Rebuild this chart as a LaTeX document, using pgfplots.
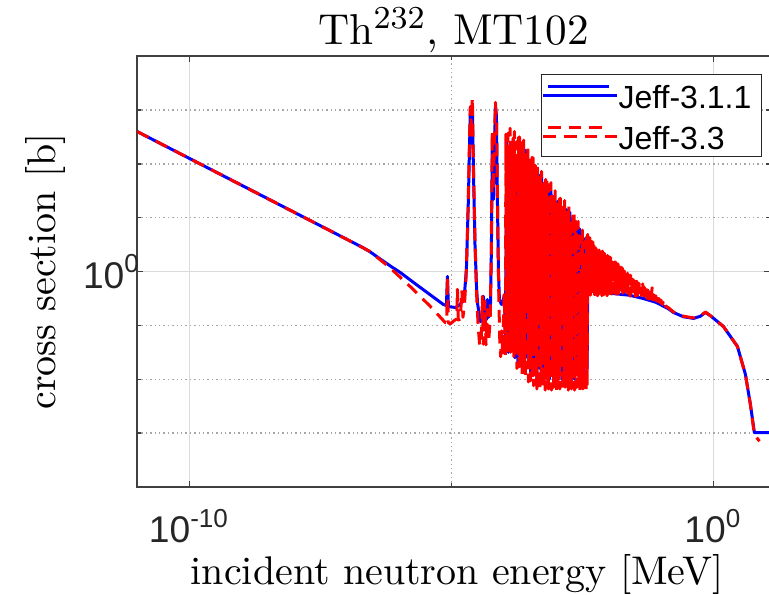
\documentclass[border=0pt]{standalone}
\usepackage{fontspec}
\usepackage{pgfplots}
\pgfplotsset{compat=1.18}
\newfontfamily\lsans{Liberation Sans}
\begin{document}
\begin{tikzpicture}
\begin{axis}[
  at={(0,0)}, anchor=south west,
  scale only axis, width=158.25pt, height=107.75pt,
  xmin=-11, xmax=1.08, ymin=-4, ymax=4,
  xtick={-10,0}, xticklabels={{10\textsuperscript{-10}},{10\textsuperscript{0}}},
  ytick={0}, yticklabels={{10\textsuperscript{0}}},
  minor xtick={-5}, minor ytick={-3,-2,-1,1,2,3},
  tick label style={font=\lsans\fontsize{9.3}{10}\selectfont, text=black!85},
  xticklabel style={yshift=-2pt},
  yticklabel style={xshift=4.5pt},
  tick align=inside,
  major tick length=1.6pt, minor tick length=1pt,
  tick style={black!75, line width=0.35pt},
  axis line style={black!75, line width=0.4pt},
  grid=both,
  major grid style={black!14, line width=0.35pt},
  minor grid style={black!35, line width=0.35pt, dash pattern=on 0.35pt off 0.75pt},
  every axis title shift=0pt,
  title={Th$^{232}$, MT102},
  title style={at={(axis description cs:0.5,1)}, anchor=base, yshift=3pt, font=\fontsize{10.8}{13}\selectfont},
  xlabel={incident neutron energy [MeV]},
  xlabel style={at={(axis description cs:0.5,0)}, anchor=base, yshift=-24.25pt, xshift=0.9pt, font=\fontsize{10}{12}\selectfont},
  ylabel={cross section [b]},
  ylabel style={at={(axis description cs:0,0.5)}, anchor=base, yshift=20.5pt, font=\fontsize{10}{12}\selectfont},
  legend cell align=left,
  legend style={at={(axis description cs:1,1)}, anchor=north east, xshift=-2pt, yshift=-4.5pt,
    draw=black!85, line width=0.3pt, fill=white,
    font=\lsans\fontsize{8}{9.6}\selectfont, inner xsep=0pt, inner ysep=0pt, row sep=0pt,
    nodes={inner sep=0pt, text height=8.5pt, text depth=1.75pt}},
  legend image code/.code={\path (0pt,0pt) -- (18.5pt,0pt); \draw[#1] (1.2pt,2.1pt) -- (16.4pt,2.1pt);},
  every axis plot/.append style={line width=0.75pt, line join=round},
]
\addplot[color={rgb,1:red,0;green,0;blue,1}] coordinates {
(-11.00,2.60) (-10.00,2.10) (-9.00,1.60) (-8.00,1.10) (-7.00,0.60) (-6.80,0.50) (-6.70,0.45) (-6.55,0.365) (-6.355,0.23) (-6.16,0.10) (-5.973,-0.02) (-5.592,-0.297) (-5.153,-0.612) (-5.095,-0.63) (-5.076,-0.09) (-5.057,-0.65) (-4.924,-0.668) (-4.828,-0.61) (-4.752,-0.43) (-4.714,0.04) (-4.676,1.34) (-4.647,2.63) (-4.64,2.95) (-4.62,2.6) (-4.60,3.04) (-4.58,1.9) (-4.55,0.5) (-4.52,-0.3) (-4.50,-0.6) (-4.447,-0.93) (-4.408,-0.85) (-4.389,-0.46) (-4.37,-0.85) (-4.332,-0.89) (-4.313,-0.52) (-4.294,-0.85) (-4.256,-0.70) (-4.237,0.41) (-4.218,2.54) (-4.198,1.34) (-4.179,2.26) (-4.16,3.06) (-4.141,2.91) (-4.122,1.34) (-4.103,0.04) (-4.084,-0.52) (-4.046,-0.61) (-4.008,-0.52) (-3.989,-0.43)
(-3.97,-1.2) (-3.94,2.45) (-3.91,-1.5) (-3.88,2.3) (-3.85,-1.3) (-3.82,2.45) (-3.79,-1.6) (-3.76,2.1) (-3.73,-1.7) (-3.70,2.40) (-3.67,-1.5) (-3.64,2.2) (-3.61,-1.8) (-3.58,2.25) (-3.55,-1.6) (-3.52,2.0) (-3.49,-1.9) (-3.46,2.05) (-3.43,-1.7) (-3.40,1.90) (-3.37,-2.0) (-3.34,1.80) (-3.31,-1.8) (-3.28,1.75) (-3.25,-2.0) (-3.22,1.6) (-3.19,-1.9) (-3.16,1.60) (-3.13,-2.0) (-3.10,1.50) (-3.07,-1.8) (-3.04,1.40) (-3.01,-2.0) (-2.98,1.30) (-2.95,-1.9) (-2.92,1.30) (-2.89,-2.0) (-2.86,1.2) (-2.83,-1.85) (-2.80,1.15) (-2.77,-2.0) (-2.74,1.10) (-2.71,-1.9) (-2.68,1.0) (-2.65,-2.0) (-2.62,0.90) (-2.59,-1.9) (-2.56,0.80) (-2.53,-2.0) (-2.50,0.70) (-2.47,-1.9) (-2.44,0.62) (-2.41,-1.8)
(-2.40,-0.35) (-2.0,-0.40) (-1.6,-0.44) (-1.34,-0.50) (-1.1,-0.57) (-0.86,-0.69)
(-0.763,-0.76) (-0.57,-0.84) (-0.38,-0.87) (-0.25,-0.83) (-0.153,-0.76) (-0.057,-0.82) (0.191,-1.02) (0.458,-1.39) (0.611,-1.91) (0.706,-2.47) (0.782,-2.99) (1.30,-2.99)
};
\addlegendentry{Jeff-3.1.1\kern2.5pt}
\addplot[color={rgb,1:red,1;green,0;blue,0}, dash pattern=on 3.2pt off 2pt] coordinates {
(-11.00,2.60) (-10.00,2.10) (-9.00,1.60) (-8.00,1.10) (-7.00,0.60) (-6.80,0.50) (-6.55,0.37) (-6.16,0.06) (-5.73,-0.33) (-5.40,-0.65) (-5.21,-0.85) (-5.115,-0.95) (-5.09,-0.95) (-5.076,-0.09) (-5.06,-0.95) (-5.02,-0.97) (-4.96,-0.92) (-4.90,-0.88) (-4.885,-0.33) (-4.87,-0.90) (-4.83,-0.88) (-4.80,-0.35) (-4.78,-0.85) (-4.75,-0.60) (-4.72,-0.10) (-4.69,0.80) (-4.66,2.20) (-4.64,3.06) (-4.62,2.70) (-4.60,3.23) (-4.58,2.00) (-4.55,0.60) (-4.52,-0.40) (-4.49,-1.00) (-4.46,-1.38) (-4.43,-1.30) (-4.41,-0.46) (-4.39,-1.35) (-4.36,-0.55) (-4.34,-1.36) (-4.31,-0.70) (-4.29,-1.30) (-4.26,-0.90) (-4.24,0.30) (-4.22,2.60) (-4.20,1.50) (-4.18,2.40) (-4.16,3.14) (-4.14,2.80) (-4.12,1.30) (-4.10,-0.20) (-4.08,-1.20) (-4.06,-1.58) (-4.04,-1.10) (-4.02,-1.55) (-4.00,-0.60) (-3.99,-0.40)
(-3.97,-1.60) (-3.96,2.55) (-3.95,-1.30) (-3.94,2.30) (-3.93,-1.55) (-3.92,2.57) (-3.91,-1.00) (-3.90,2.07) (-3.89,-1.45) (-3.88,2.66) (-3.87,-1.50) (-3.86,2.40) (-3.85,-0.60) (-3.84,1.74) (-3.83,-1.35) (-3.82,2.48) (-3.81,-1.58) (-3.80,2.60) (-3.79,-1.40) (-3.78,2.17) (-3.77,-0.50) (-3.76,2.41) (-3.75,-1.80) (-3.74,1.40) (-3.73,-1.50) (-3.72,2.49) (-3.71,-1.77) (-3.70,2.50) (-3.69,-1.30) (-3.68,2.17) (-3.67,-1.80) (-3.66,2.39) (-3.65,-1.92) (-3.64,1.86) (-3.63,-1.05) (-3.62,2.44) (-3.61,-1.77) (-3.60,2.16) (-3.59,-1.98) (-3.58,1.48) (-3.57,-1.60) (-3.56,2.20) (-3.55,-0.70) (-3.54,2.31) (-3.53,-2.05) (-3.52,1.85) (-3.51,-1.75) (-3.50,2.07) (-3.49,-2.03) (-3.48,1.04) (-3.47,-1.50) (-3.46,2.12) (-3.45,-2.00) (-3.44,2.11) (-3.43,-2.12) (-3.42,1.77) (-3.41,-1.25) (-3.40,1.97) (-3.39,-2.00) (-3.38,1.43) (-3.37,-2.18) (-3.36,1.99) (-3.35,-1.80) (-3.34,1.70) (-3.33,-0.90) (-3.32,1.03) (-3.31,-2.20) (-3.30,1.76) (-3.29,-1.90) (-3.28,1.86) (-3.27,-2.15) (-3.26,1.41) (-3.25,-1.60) (-3.24,1.64) (-3.23,-2.10) (-3.22,0.62) (-3.21,-2.20) (-3.20,1.71) (-3.19,-1.30) (-3.18,1.72) (-3.17,-2.00) (-3.16,1.39) (-3.15,-2.18) (-3.14,1.61) (-3.13,-1.80) (-3.12,1.08) (-3.11,-0.90) (-3.10,1.65) (-3.09,-2.20) (-3.08,1.37) (-3.07,-1.90) (-3.06,0.68) (-3.05,-2.15) (-3.04,1.40) (-3.03,-1.60) (-3.02,1.50) (-3.01,-2.10) (-3.00,1.05) (-2.99,-2.20) (-2.98,1.28) (-2.97,-1.30) (-2.96,0.26) (-2.95,-2.00) (-2.94,1.35) (-2.93,-2.18) (-2.92,1.36) (-2.91,-1.80) (-2.90,1.04) (-2.89,-0.90) (-2.88,1.27) (-2.87,-2.20) (-2.86,0.74) (-2.85,-1.90) (-2.84,1.32) (-2.83,-2.15) (-2.82,1.05) (-2.81,-1.60) (-2.80,0.38) (-2.79,-2.10) (-2.78,1.11) (-2.77,-2.20) (-2.76,1.22) (-2.75,-1.30) (-2.74,0.77) (-2.73,-2.00) (-2.72,1.00) (-2.71,-2.18) (-2.70,-0.02) (-2.69,-1.80) (-2.68,1.08) (-2.67,-0.90) (-2.66,1.08) (-2.65,-2.20) (-2.64,0.73) (-2.63,-1.90) (-2.62,0.93) (-2.61,-2.15) (-2.60,0.38) (-2.59,-1.60) (-2.58,0.93) (-2.57,-2.10) (-2.56,0.63) (-2.55,-2.20) (-2.54,-0.07) (-2.53,-1.30) (-2.52,0.66) (-2.51,-2.00) (-2.50,0.77) (-2.49,-2.18) (-2.48,0.33) (-2.47,-1.80) (-2.46,0.56) (-2.45,-0.90) (-2.44,-0.46) (-2.43,-2.20) (-2.42,0.64) (-2.41,-2.10)
(-2.40,0.69) (-2.39,-0.45) (-2.38,0.63) (-2.37,-0.42) (-2.36,0.63) (-2.35,-0.44) (-2.34,0.54) (-2.33,-0.30) (-2.32,0.56) (-2.31,-0.45) (-2.30,0.55) (-2.29,-0.39) (-2.28,0.48) (-2.27,-0.43) (-2.26,0.50) (-2.25,-0.20) (-2.24,0.43) (-2.23,-0.44) (-2.22,0.44) (-2.21,-0.45) (-2.20,0.37) (-2.19,-0.42) (-2.18,0.40) (-2.17,-0.44) (-2.16,0.41) (-2.15,-0.30) (-2.14,0.34) (-2.13,-0.45) (-2.12,0.38) (-2.11,-0.39) (-2.10,0.32) (-2.09,-0.43) (-2.08,0.34) (-2.07,-0.20) (-2.06,0.26) (-2.05,-0.44) (-2.04,0.30) (-2.03,-0.45) (-2.02,0.30) (-2.01,-0.42) (-2.00,0.25) (-1.99,-0.41) (-1.98,0.27) (-1.97,-0.27) (-1.96,0.26) (-1.95,-0.42) (-1.94,0.20) (-1.93,-0.36) (-1.92,0.22) (-1.91,-0.40) (-1.90,0.16) (-1.89,-0.17) (-1.88,0.18) (-1.87,-0.41) (-1.86,0.17) (-1.85,-0.42) (-1.84,0.12) (-1.83,-0.39) (-1.82,0.14) (-1.81,-0.41) (-1.80,0.05) (-1.79,-0.27) (-1.78,0.08) (-1.77,-0.42) (-1.76,0.08) (-1.75,-0.36) (-1.74,0.07) (-1.73,-0.40) (-1.72,0.01) (-1.71,-0.17) (-1.70,0.01) (-1.69,-0.41) (-1.68,0.00) (-1.67,-0.42) (-1.66,-0.06) (-1.65,-0.39) (-1.64,-0.03) (-1.63,-0.41) (-1.62,-0.06) (-1.61,-0.27) (-1.60,-0.08) (-1.59,-0.46) (-1.58,-0.07) (-1.57,-0.40) (-1.56,-0.13) (-1.55,-0.44) (-1.54,-0.11) (-1.53,-0.21) (-1.52,-0.16) (-1.51,-0.46) (-1.50,-0.15) (-1.49,-0.46) (-1.48,-0.21) (-1.47,-0.43) (-1.46,-0.18) (-1.45,-0.45) (-1.44,-0.19) (-1.43,-0.31) (-1.42,-0.22) (-1.41,-0.47) (-1.40,-0.30) (-1.39,-0.41) (-1.38,-0.27) (-1.37,-0.45) (-1.36,-0.26) (-1.35,-0.23) (-1.34,-0.32) (-1.33,-0.48) (-1.32,-0.29) (-1.31,-0.49) (-1.30,-0.32) (-1.29,-0.46) (-1.28,-0.35) (-1.27,-0.50) (-1.26,-0.34) (-1.25,-0.36) (-1.24,-0.37) (-1.23,-0.51) (-1.22,-0.38) (-1.21,-0.46) (-1.20,-0.40) (-1.19,-0.51) (-1.18,-0.40) (-1.17,-0.30) (-1.16,-0.41) (-1.15,-0.53) (-1.14,-0.43) (-1.13,-0.54) (-1.12,-0.46) (-1.11,-0.53) (-1.10,-0.45) (-1.09,-0.55) (-1.08,-0.48) (-1.07,-0.56) (-1.06,-0.50) (-1.05,-0.56) (-1.04,-0.50) (-1.03,-0.57) (-1.02,-0.51) (-1.01,-0.58) (-1.00,-0.53) (-0.99,-0.60) (-0.98,-0.56) (-0.97,-0.61) (-0.96,-0.57) (-0.95,-0.62) (-0.94,-0.60) (-0.93,-0.64) (-0.92,-0.62) (-0.91,-0.65) (-0.90,-0.64) (-0.89,-0.66) (-0.88,-0.66)
(-0.86,-0.67) (-0.763,-0.75) (-0.57,-0.83) (-0.38,-0.86) (-0.25,-0.83) (-0.153,-0.75) (-0.057,-0.82) (0.191,-1.02) (0.458,-1.39) (0.611,-1.91) (0.706,-2.47) (0.782,-3.03) (0.88,-3.15)
};
\addlegendentry{Jeff-3.3\kern2.5pt}
\end{axis}
\pgfresetboundingbox
\useasboundingbox (-34.25pt,-26.75pt) rectangle (158pt,121.75pt);
\end{tikzpicture}
\end{document}
